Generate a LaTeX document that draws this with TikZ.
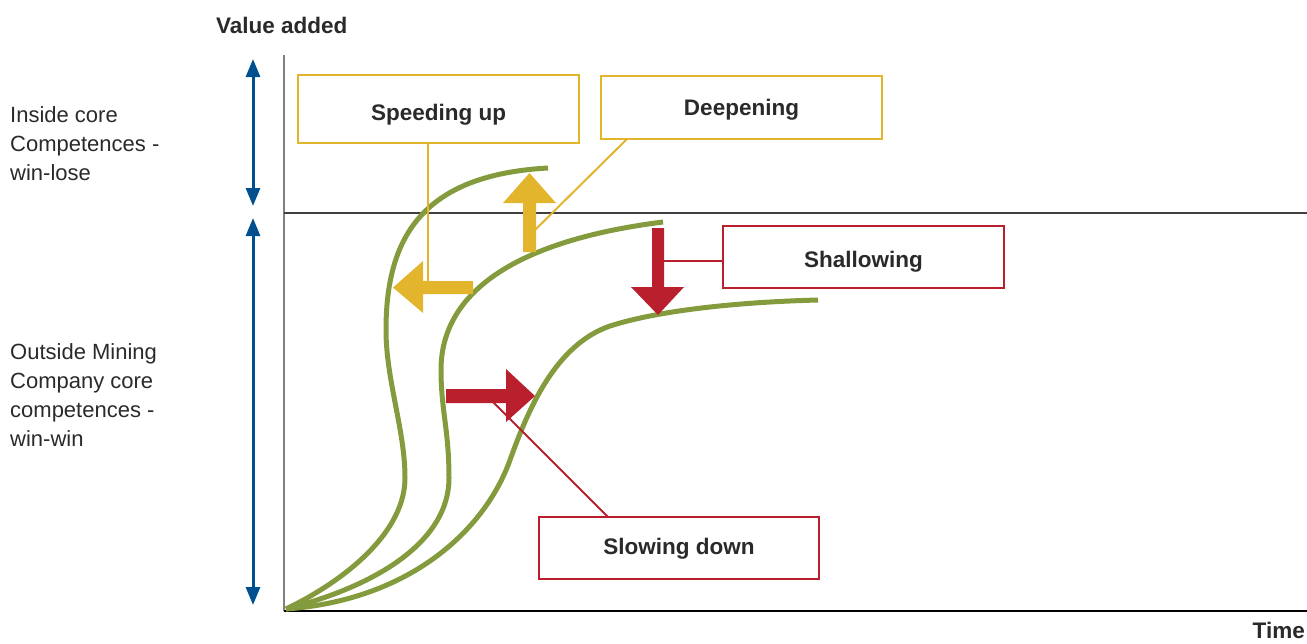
\documentclass[tikz,border=0pt]{standalone}
\usepackage{fontspec}
\setmainfont{Liberation Sans}
\usetikzlibrary{arrows.meta}
\definecolor{cgreen}{HTML}{849B3D}
\definecolor{cyellow}{HTML}{E2B52C}
\definecolor{cred}{HTML}{B91F2D}
\definecolor{cblue}{HTML}{00508F}
\definecolor{ctext}{HTML}{2A2A2A}
\tikzset{
  lbl/.style={font=\fontsize{22}{29}\selectfont, text=ctext, inner sep=0pt, align=left, anchor=north west},
  axlbl/.style={font=\fontsize{22.5}{29}\selectfont\bfseries, text=ctext, inner sep=0pt},
  ybox/.style={draw=cyellow, line width=2pt, fill=white, font=\fontsize{22.5}{27}\selectfont\bfseries, text=ctext},
  rbox/.style={draw=cred, line width=2pt, fill=white, font=\fontsize{22.5}{27}\selectfont\bfseries, text=ctext},
  curve/.style={draw=cgreen, line width=5pt},
  yconn/.style={draw=cyellow, line width=2pt},
  rconn/.style={draw=cred, line width=2pt},
  bluearrow/.style={draw=cblue, line width=3pt, {Triangle[length=18pt,width=14pt]}-{Triangle[length=18pt,width=14pt]}},
}
\begin{document}
\begin{tikzpicture}[x=1pt,y=-1pt]
\useasboundingbox (0,0) rectangle (1307,643);
% axis labels
\node[axlbl, anchor=base west] (vlabel) at (216,33) {Value added};
\node[axlbl, anchor=base east] (tlabel) at (1305,638) {Time};
% axes
\draw[draw=gray, line width=2pt] (284,55) -- (284,611);
\draw[draw=black, line width=1.5pt] (284,611) -- (1307,611);
\draw[draw=black!75, line width=1.2pt] (284,213) -- (1307,213);
% blue arrows
\coordinate (u1) at (253,59);
\coordinate (u2) at (253,206);
\coordinate (l1) at (253,218);
\coordinate (l2) at (253,605);
\draw[bluearrow] (u1) -- (u2);
\draw[bluearrow] (l1) -- (l2);
% left labels
\node[lbl] (inside) at (10,106) {Inside core\\Competences -\\win-lose};
\node[lbl] (outside) at (10,343) {Outside Mining\\Company core\\competences -\\win-win};
% curves
\draw[curve] (286,609) .. controls (350,578) and (405,530) .. (405,478)
  .. controls (405,430) and (386,380) .. (386,330)
  .. controls (386,240) and (420,175) .. (548,168);
\draw[curve] (286,609) .. controls (380,585) and (449,540) .. (449,478)
  .. controls (449,430) and (441,410) .. (441,370)
  .. controls (441,290) and (520,240) .. (663,222);
\draw[curve] (286,609) .. controls (410,600) and (485,530) .. (510,460)
  .. controls (528,410) and (555,345) .. (610,326)
  .. controls (660,310) and (740,302) .. (818,300);
% boxes
\node[ybox, minimum width=281pt, minimum height=68pt, text height=23pt, text depth=0pt] (speed) at (438.5,109) {Speeding up};
\node[ybox, minimum width=281pt, minimum height=63pt, text height=17pt, text depth=2pt] (deep) at (741.5,107.5) {Deepening};
\node[rbox, minimum width=281pt, minimum height=62pt, text height=21pt, text depth=0pt] (shallow) at (863.5,257) {Shallowing};
\node[rbox, minimum width=280pt, minimum height=62pt, text height=14pt, text depth=2pt] (slow) at (679,548) {Slowing down};
% connector ends on arrows
\coordinate (speedend) at (428,281);
\coordinate (deepstart) at (627,139);
\coordinate (deepend) at (535,230);
\coordinate (shallowend) at (664,261);
\coordinate (slowstart) at (608,517);
\coordinate (slowend) at (493,402);
\draw[yconn] (speed.south -| speedend) -- (speedend);
\draw[yconn] (deepstart) -- (deepend);
\draw[rconn] (shallow.west |- shallowend) -- (shallowend);
\draw[rconn] (slowstart) -- (slowend);
% fat arrows
\fill[cyellow] (523,252) -- (536,252) -- (536,203) -- (556,203) -- (529.5,173) -- (503,203) -- (523,203) -- cycle;
\fill[cyellow] (473,281) -- (473,294) -- (423,294) -- (423,313) -- (393,287.5) -- (423,261) -- (423,281) -- cycle;
\fill[cred] (652,228) -- (664,228) -- (664,287) -- (684,287) -- (658,315) -- (631,287) -- (652,287) -- cycle;
\fill[cred] (446,389) -- (506,389) -- (506,369) -- (535,396) -- (506,422) -- (506,403) -- (446,403) -- cycle;
\end{tikzpicture}
\end{document}
